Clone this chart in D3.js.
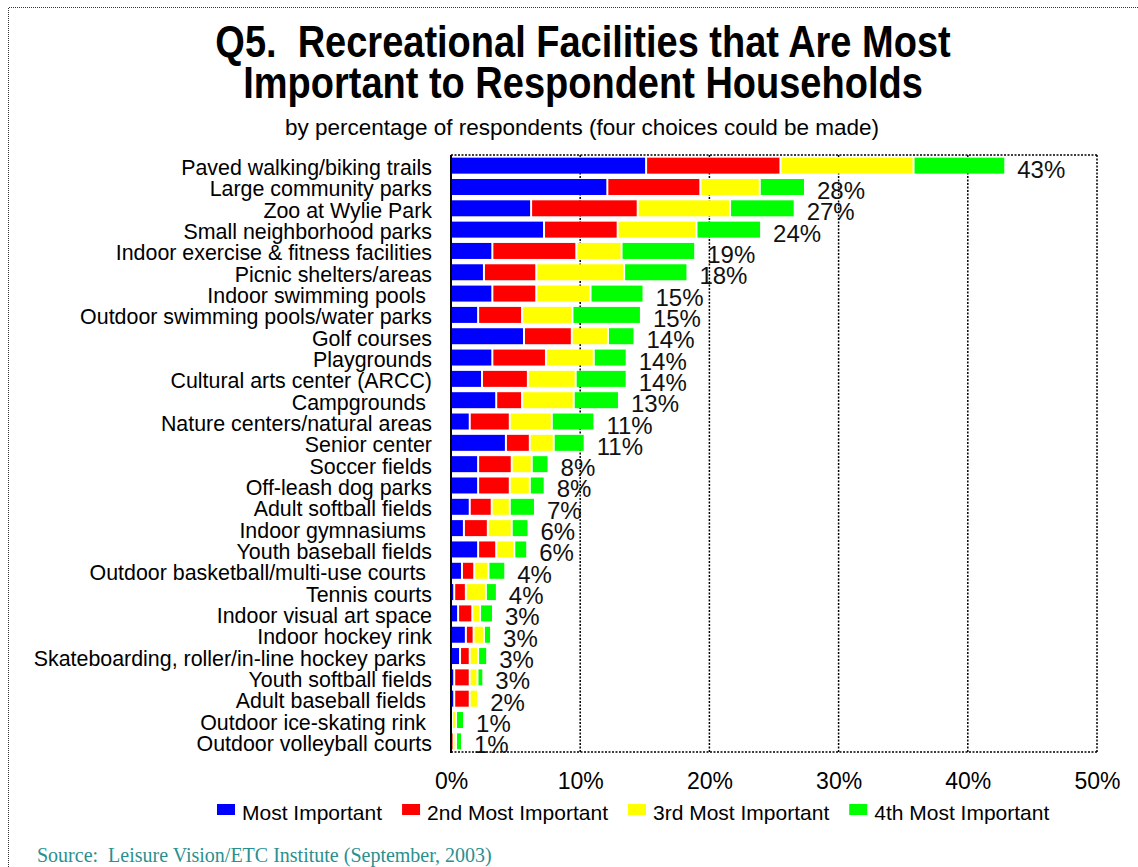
<!DOCTYPE html>
<html>
<head>
<meta charset="utf-8">
<script src="https://cdn.jsdelivr.net/npm/d3@7"></script>
<style>
  html, body { margin: 0; padding: 0; background: #fff; }
  svg { display: block; }
  text { white-space: pre; }
</style>
</head>
<body>
<svg id="chart" width="1138" height="867"></svg>
<script>
const categories = [
  "Paved walking/biking trails",
  "Large community parks",
  "Zoo at Wylie Park",
  "Small neighborhood parks",
  "Indoor exercise & fitness facilities",
  "Picnic shelters/areas",
  "Indoor swimming pools ",
  "Outdoor swimming pools/water parks",
  "Golf courses",
  "Playgrounds",
  "Cultural arts center (ARCC)",
  "Campgrounds ",
  "Nature centers/natural areas",
  "Senior center",
  "Soccer fields",
  "Off-leash dog parks",
  "Adult softball fields",
  "Indoor gymnasiums ",
  "Youth baseball fields",
  "Outdoor basketball/multi-use courts ",
  "Tennis courts",
  "Indoor visual art space",
  "Indoor hockey rink",
  "Skateboarding, roller/in-line hockey parks ",
  "Youth softball fields",
  "Adult baseball fields ",
  "Outdoor ice-skating rink ",
  "Outdoor volleyball courts"
];
const mostImportant = [15.1, 12.1, 6.2, 7.2, 3.2, 2.55, 3.2, 2.1, 5.65, 3.2, 2.4, 3.5, 1.45, 4.25, 2.1, 2.1, 1.45, 1.0, 2.1, 0.85, 0.25, 0.55, 1.15, 0.7, 0.25, 0.25, 0, 0];
const secondMost    = [10.4, 7.2, 8.25, 5.7, 6.5, 4.05, 3.4, 3.4, 3.7, 4.15, 3.55, 2.0, 3.1, 1.85, 2.6, 2.45, 1.7, 1.85, 1.4, 0.95, 0.9, 1.1, 0.6, 0.75, 1.2, 1.2, 0.08, 0.2];
const thirdMost     = [10.3, 4.6, 7.15, 6.1, 3.5, 6.8, 4.2, 3.9, 2.8, 3.7, 3.7, 4.0, 3.25, 1.85, 1.55, 1.55, 1.4, 1.85, 1.4, 1.1, 1.55, 0.6, 0.8, 0.65, 0.6, 0.65, 0.31, 0.19];
const fourthMost    = [7.1, 3.5, 5.0, 5.0, 5.7, 4.9, 4.1, 5.3, 2.05, 2.55, 3.95, 3.5, 3.3, 2.4, 1.3, 1.15, 1.95, 1.3, 1.0, 1.3, 0.85, 1.0, 0.55, 0.7, 0.45, 0, 0.62, 0.46];
const totalLabels = ["43%","28%","27%","24%","19%","18%","15%","15%","14%","14%","14%","13%","11%","11%","8%","8%","7%","6%","6%","4%","4%","3%","3%","3%","3%","2%","1%","1%"];
const seriesNames = ["Most Important", "2nd Most Important", "3rd Most Important", "4th Most Important"];
const seriesColors = ["#0000ff", "#ff0000", "#ffff00", "#00ff00"];
const tickValues = [0, 10, 20, 30, 40, 50];

const svg = d3.select("#chart");
const W = 1138, H = 867;
const SANS = "Liberation Sans, Arial, sans-serif";

// outer dotted frame
svg.append("path")
  .attr("d", `M8.5,${H} L8.5,7.5 L${W},7.5`)
  .attr("fill", "none").attr("stroke", "#333").attr("stroke-width", 1)
  .attr("stroke-dasharray", "1,1");

// titles (slightly tall glyphs as in the reference)
const title = svg.append("text")
  .attr("transform", "translate(583,57) scale(1,1.18)")
  .attr("text-anchor", "middle")
  .attr("font-family", SANS)
  .attr("font-weight", "bold").attr("font-size", 38).attr("fill", "#000");
title.append("tspan").attr("x", 0).attr("y", 0).text("Q5.  Recreational Facilities that Are Most");
title.append("tspan").attr("x", 0).attr("y", 41 / 1.18).text("Important to Respondent Households");

svg.append("text")
  .attr("x", 582).attr("y", 135)
  .attr("text-anchor", "middle")
  .attr("font-family", SANS)
  .attr("font-size", 22.5).attr("fill", "#000")
  .text("by percentage of respondents (four choices could be made)");

// plot area
const plot = { left: 451, right: 1097, top: 155, bottom: 752 };
const x = d3.scaleLinear().domain([0, 50]).range([plot.left, plot.right]);
const y = d3.scaleBand().domain(categories).range([plot.top, plot.bottom]).paddingInner(0.25).paddingOuter(0.125);

// gridlines (dotted)
svg.append("g").selectAll("line")
  .data(tickValues.filter(d => d > 0))
  .join("line")
  .attr("x1", d => x(d)).attr("x2", d => x(d))
  .attr("y1", plot.top).attr("y2", plot.bottom)
  .attr("stroke", "#000").attr("stroke-width", 1.5).attr("stroke-dasharray", "2,1.5");

// top and bottom border dotted
[plot.top, plot.bottom].forEach(yy => {
  svg.append("line")
    .attr("x1", plot.left).attr("x2", plot.right)
    .attr("y1", yy).attr("y2", yy)
    .attr("stroke", "#000").attr("stroke-width", 1.5).attr("stroke-dasharray", "2,1.5");
});

// stacked data
const rows = categories.map((c, i) => ({
  cat: c,
  "Most Important": mostImportant[i],
  "2nd Most Important": secondMost[i],
  "3rd Most Important": thirdMost[i],
  "4th Most Important": fourthMost[i]
}));
const stack = d3.stack().keys(seriesNames)(rows);

const gBars = svg.append("g");
stack.forEach((layer, k) => {
  gBars.append("g").attr("fill", seriesColors[k])
    .selectAll("rect")
    .data(layer.filter(d => (x(d[1]) - x(d[0])) > 2))
    .join("rect")
    .attr("x", d => x(d[0]) + 1)
    .attr("width", d => x(d[1]) - x(d[0]) - 2)
    .attr("y", d => y(d.data.cat))
    .attr("height", y.bandwidth());
});

// left axis line (solid)
svg.append("line")
  .attr("x1", plot.left).attr("x2", plot.left)
  .attr("y1", plot.top).attr("y2", plot.bottom + 1)
  .attr("stroke", "#000").attr("stroke-width", 2);

// category labels
svg.append("g").selectAll("text")
  .data(categories)
  .join("text")
  .attr("x", 432)
  .attr("y", d => y(d) + y.bandwidth() / 2 + 9.5)
  .attr("text-anchor", "end")
  .attr("font-family", SANS)
  .attr("font-size", 21.4).attr("fill", "#000")
  .text(d => d);

// total labels
const totals = rows.map(r => seriesNames.reduce((s, k) => s + r[k], 0));
svg.append("g").selectAll("text")
  .data(categories)
  .join("text")
  .attr("x", (d, i) => x(totals[i]) + 12)
  .attr("y", d => y(d) + y.bandwidth() / 2 + 12)
  .attr("font-family", SANS)
  .attr("font-size", 24).attr("fill", "#111")
  .text((d, i) => totalLabels[i]);

// x axis tick labels
const xAxis = d3.axisBottom(x).tickValues(tickValues).tickSize(0).tickPadding(0).tickFormat(d => d + "%");
const gx = svg.append("g").attr("transform", `translate(0, 772)`).call(xAxis);
gx.select(".domain").remove();
gx.selectAll("text")
  .attr("font-family", SANS)
  .attr("font-size", 23).attr("fill", "#000")
  .attr("dy", null).attr("y", 17);

// legend
const legend = svg.append("g");
let lx = 217;
seriesNames.forEach((name, k) => {
  legend.append("rect").attr("x", lx).attr("y", 804).attr("width", 18).attr("height", 11).attr("fill", seriesColors[k]);
  const t = legend.append("text").attr("x", lx + 25).attr("y", 820)
    .attr("font-family", SANS)
    .attr("font-size", 21).attr("fill", "#000").text(name);
  lx = lx + 25 + t.node().getComputedTextLength() + 20;
});

// source
svg.append("text")
  .attr("x", 37).attr("y", 862)
  .attr("font-family", "Liberation Serif, Times New Roman, serif")
  .attr("font-size", 20).attr("fill", "#2a8f8f")
  .text("Source:  Leisure Vision/ETC Institute (September, 2003)");
</script>
</body>
</html>
